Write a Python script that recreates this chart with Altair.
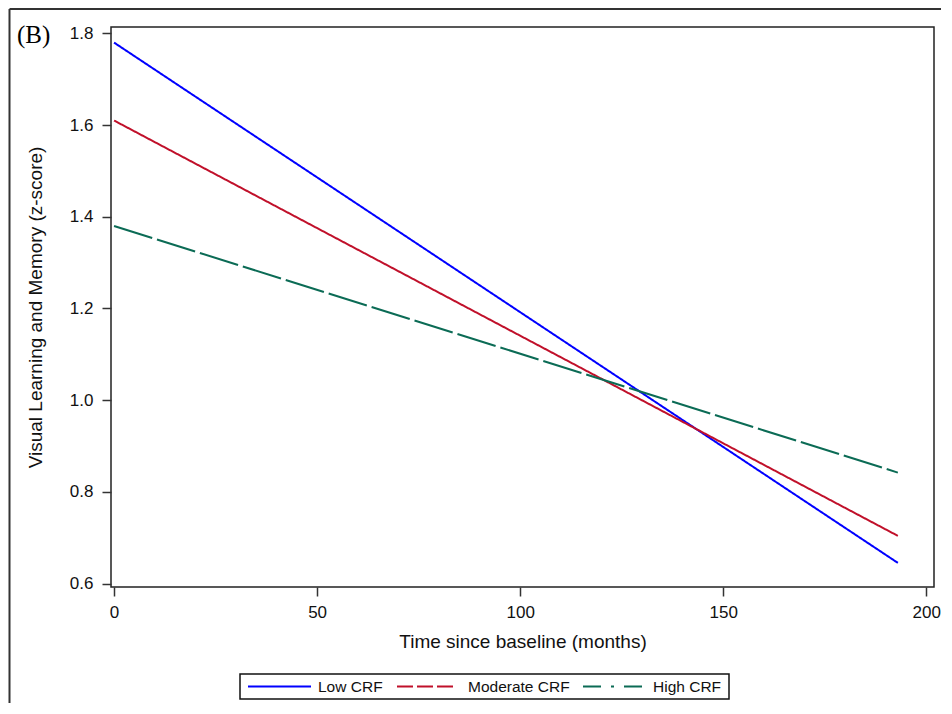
import altair as alt
import pandas as pd

series = ["Low CRF", "Moderate CRF", "High CRF"]
time_start = [0, 0, 0]
time_end = [193, 193, 193]
value_start = [1.78, 1.61, 1.38]
value_end = [0.645, 0.704, 0.842]
colors = ["#0000FF", "#C0102A", "#0B6B55"]
y_ticks = [0.6, 0.8, 1.0, 1.2, 1.4, 1.6, 1.8]
x_ticks = [0, 50, 100, 150, 200]

rows = []
for s, t0, t1, v0, v1 in zip(series, time_start, time_end, value_start, value_end):
    rows.append({"series": s, "time": t0, "value": v0})
    rows.append({"series": s, "time": t1, "value": v1})
df = pd.DataFrame(rows)

FONT = "Liberation Sans"

x_enc = alt.X("time:Q", scale=alt.Scale(domain=[-0.75, 201.9], nice=False, zero=False),
              axis=alt.Axis(values=x_ticks, title="Time since baseline (months)", format="d"))
y_enc = alt.Y("value:Q", scale=alt.Scale(domain=[0.5924, 1.814], nice=False, zero=False),
              axis=alt.Axis(values=y_ticks, format=".1f",
                            title="Visual Learning and Memory (z-score)"))

lines = alt.Chart(df).mark_line(strokeWidth=2, clip=True).encode(
    x=x_enc, y=y_enc,
    color=alt.Color("series:N", scale=alt.Scale(domain=series, range=colors), legend=None),
    strokeDash=alt.StrokeDash("series:N",
                              scale=alt.Scale(domain=series, range=[[1, 0], [1, 0], [40, 5]]),
                              legend=None),
)

one = pd.DataFrame({"k": [1]})

# outer figure border (left and top edges)
left_border = alt.Chart(one).mark_rule(color="#333", strokeWidth=2).encode(
    x=alt.value(-101.5), y=alt.value(-18), y2=alt.value(676))
top_border = alt.Chart(one).mark_rule(color="#333", strokeWidth=2).encode(
    x=alt.value(-101.5), x2=alt.value(830), y=alt.value(-18))

panel_label = alt.Chart(pd.DataFrame({"label": ["(B)"]})).mark_text(
    align="left", baseline="middle", font="Liberation Serif", fontSize=25, color="#000"
).encode(text="label:N", x=alt.value(-94), y=alt.value(8))

# legend drawn by hand
legend_dashes = [[1, 0], [16, 4], [18, 10, 3, 10]]
sym_x = [(137, 200), (286, 343), (472, 533)]
lab_x = [207, 357, 542]
LEG_Y = 659.5

legend_box = alt.Chart(one).mark_rect(fill="white", stroke="#111", strokeWidth=1.5).encode(
    x=alt.value(129), x2=alt.value(618), y=alt.value(647), y2=alt.value(672))
legend_layers = [legend_box]
for s, c, d, (xa, xb), lx in zip(series, colors, legend_dashes, sym_x, lab_x):
    legend_layers.append(
        alt.Chart(one).mark_rule(color=c, strokeWidth=2, strokeDash=d).encode(
            x=alt.value(xa), x2=alt.value(xb), y=alt.value(LEG_Y)))
    legend_layers.append(
        alt.Chart(pd.DataFrame({"label": [s]})).mark_text(
            align="left", baseline="middle", font=FONT, fontSize=15.5, color="#111"
        ).encode(text="label:N", x=alt.value(lx), y=alt.value(LEG_Y)))

chart = alt.layer(lines, left_border, top_border, panel_label, *legend_layers).properties(
    width=823, height=560, padding=0, background="white"
).configure_view(
    stroke="#222", strokeWidth=1.5
).configure_axis(
    grid=False, domain=False,
    labelFont=FONT, labelFontSize=17, labelColor="#111",
    titleFont=FONT, titleFontSize=19, titleColor="#111", titleFontWeight="normal",
    tickSize=9, tickColor="#333", tickWidth=1.5,
).configure_axisY(
    labelPadding=9, titlePadding=24
).configure_axisX(
    labelPadding=8, titlePadding=12
)

chart.save("out.html", embed_options={"renderer": "svg", "actions": False})
